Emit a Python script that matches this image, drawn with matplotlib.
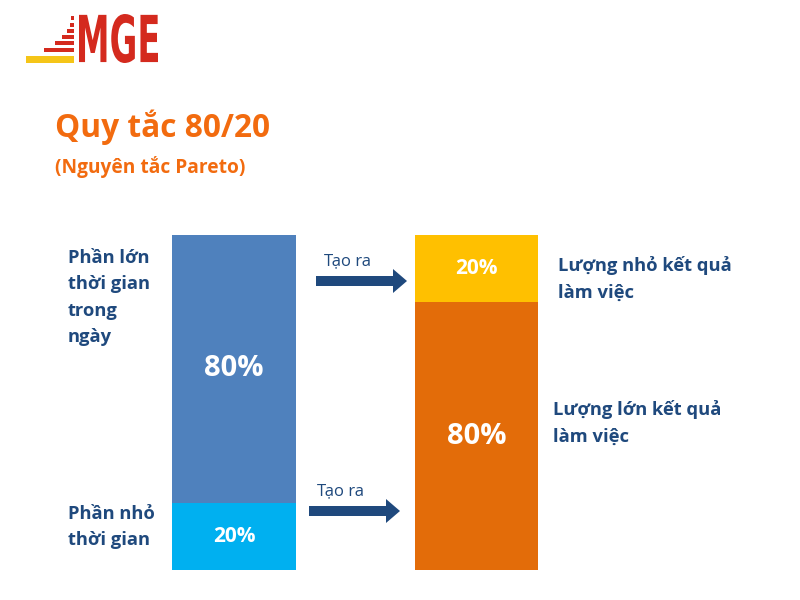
import matplotlib
matplotlib.use("Agg")
import matplotlib.pyplot as plt
from matplotlib.patches import Rectangle, FancyArrow, PathPatch
from matplotlib.textpath import TextPath
from matplotlib.font_manager import FontProperties
from matplotlib.transforms import Affine2D

time_labels = ["Phần nhỏ\nthời gian", "Phần lớn\nthời gian\ntrong\nngày"]
time_values = [20, 80]
result_labels = ["Lượng lớn kết quả\nlàm việc", "Lượng nhỏ kết quả\nlàm việc"]
result_values = [80, 20]
time_colors = ["#00B0F0", "#4F81BD"]
result_colors = ["#E36C09", "#FFC000"]

fig = plt.figure(figsize=(8, 6), dpi=100)
ax = fig.add_axes([0, 0, 1, 1])
ax.set_xlim(0, 800)
ax.set_ylim(600, 0)
ax.axis("off")

scale = 335 / 100.0
base = 570
txt = dict(fontfamily="Open Sans", fontweight="bold")

bottom = base
for v, c in zip(time_values, time_colors):
    h = v * scale
    ax.bar(234, -h, width=124, bottom=bottom, color=c)
    ax.text(234, bottom - h / 2, f"{v}%", ha="center", va="center", color="white",
            fontsize=21 if v == 80 else 15, **txt)
    bottom -= h
bottom = base
for v, c in zip(result_values, result_colors):
    h = v * scale
    ax.bar(476.5, -h, width=123, bottom=bottom, color=c)
    ax.text(476.5, bottom - h / 2, f"{v}%", ha="center", va="center", color="white",
            fontsize=21 if v == 80 else 15, **txt)
    bottom -= h

lab = dict(color="#1F497D", fontsize=13.2, ha="left", va="top", linespacing=1.6, **txt)
ax.text(68, 249, time_labels[1], **lab)
ax.text(68, 505, time_labels[0], **lab)
ax.text(558, 256, result_labels[1], **lab)
ax.text(553, 400, result_labels[0], **lab)

for y, x0, x1 in [(281, 316, 407), (511, 309, 400)]:
    ax.add_patch(FancyArrow(x0, y, x1 - x0, 0, width=10, head_width=24, head_length=14,
                            length_includes_head=True, color="#1F497D", lw=0))
    ax.text(x0 + 8, y - 20, "Tạo ra", color="#1F497D", fontsize=12, fontfamily="Open Sans",
            ha="left", va="center")

ax.text(55, 127, "Quy tắc 80/20", color="#F26B0F", fontsize=22.8, ha="left", va="center", **txt)
ax.text(55, 167, "(Nguyên tắc Pareto)", color="#F26B0F", fontsize=13.8, ha="left", va="center", **txt)

# logo
red = "#D42A1E"
ax.add_patch(Rectangle((26, 56), 48, 7, color="#F5C518", lw=0))
steps = [(44, 48, 30), (55, 41, 19), (62, 35, 12), (67, 29, 7), (70, 23, 4), (71, 16, 3)]
for x, y, w in steps:
    ax.add_patch(Rectangle((x, y), w, 4, color=red, lw=0))
tp = TextPath((0, 0), "MGE", size=10, prop=FontProperties(family="DejaVu Sans", weight="bold"))
ext = tp.get_extents()
sx = 79 / ext.width
sy = 49 / ext.height
path = Affine2D().translate(-ext.x0, -ext.y0).scale(sx, -sy).translate(79, 63).transform_path(tp)
ax.add_patch(PathPatch(path, color=red, lw=0))

fig.savefig("out.png", dpi=100)
